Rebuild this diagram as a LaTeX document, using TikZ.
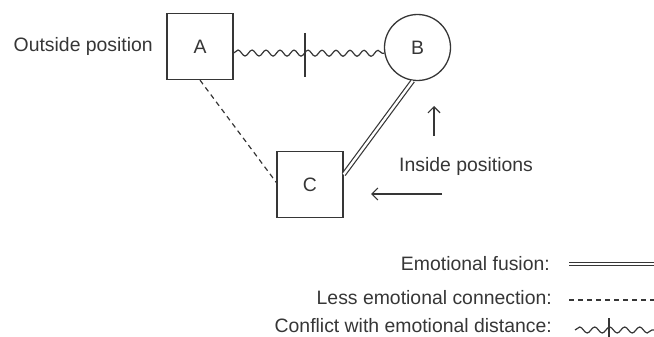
\documentclass[tikz,border=0pt]{standalone}
\usepackage{fontspec}
\setmainfont{Liberation Sans}
\usetikzlibrary{decorations.pathmorphing,arrows.meta}
\definecolor{ink}{HTML}{363636}
\begin{document}
\begin{tikzpicture}[x=1pt,y=1pt,
  every node/.style={text=ink,font=\fontsize{19.4}{23}\selectfont},
  person/.style={draw=ink,line width=1.3pt,minimum size=66pt,inner sep=0pt},
  conflict/.style={draw=ink,line width=1.2pt,decorate,decoration={snake,segment length=14pt,amplitude=3pt}},
  fusion/.style={draw=ink,line width=1.2pt,double=white,double distance=2.4pt},
  lessconn/.style={draw=ink,line width=1.2pt,dash pattern=on 5pt off 4pt},
  tick/.style={draw=ink,line width=1.2pt},
  pointer/.style={draw=ink,line width=1.2pt,-{Straight Barb[length=6pt,width=12pt,line width=1.2pt]}},
  label/.style={inner sep=0pt}]
\useasboundingbox (0,0) rectangle (654,-337);
% persons
\node[person] (A) at (200,-46.5) {A};
\node[person,circle] (B) at (417.5,-47.5) {B};
\node[person] (C) at (310,-184.5) {C};
% labels
\node[label,anchor=east] (out) at (153,-46) {Outside position};
\node[label,anchor=west] (in) at (399,-166) {Inside positions};
% connections
\coordinate (Aw) at ([yshift=-6.5pt]A.east);
\draw[conflict] (Aw) -- (B.190);
\coordinate (t1) at (305,-33);
\coordinate (t2) at (305,-77);
\draw[tick] (t1) -- (t2);
\draw[fusion] ([yshift=10pt]C.east) -- (B.262);
\draw[lessconn] (A.south) -- ([yshift=2pt]C.west);
% pointers
\coordinate (u1) at (434,-136);
\coordinate (u2) at (434,-106);
\draw[pointer] (u1) -- (u2);
\coordinate (l1) at (442,-194);
\coordinate (l2) at (371,-194);
\draw[pointer] (l1) -- (l2);
% legend
\node[label,anchor=east] (lf) at (550,-264) {Emotional fusion:};
\node[label,anchor=east] (ll) at (552,-298) {Less emotional connection:};
\node[label,anchor=east] (lc) at (552,-326) {Conflict with emotional distance:};
\coordinate (f1) at (569,-264);
\coordinate (f2) at (654,-264);
\draw[fusion] (f1) -- (f2);
\coordinate (d1) at (569,-300);
\coordinate (d2) at (654,-300);
\draw[lessconn] (d1) -- (d2);
\coordinate (c1) at (575,-330);
\coordinate (c2) at (654,-330);
\draw[conflict,decoration={snake,segment length=15pt,amplitude=3pt}] (c1) -- (c2);
\coordinate (k1) at (609,-318);
\coordinate (k2) at (609,-337);
\draw[tick] (k1) -- (k2);
\end{tikzpicture}
\end{document}
